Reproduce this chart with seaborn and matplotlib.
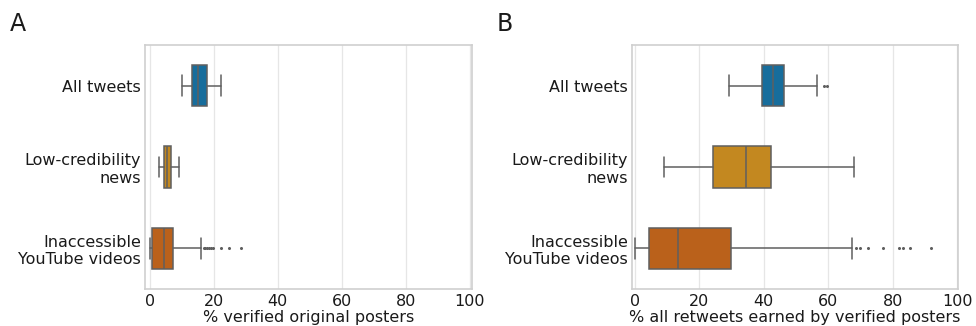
import matplotlib
matplotlib.use("Agg")
import matplotlib.pyplot as plt
import seaborn as sns

categories = ["All tweets", "Low-credibility\nnews", "Inaccessible\nYouTube videos"]

# Panel A: % verified original posters (whislo, q1, median, q3, whishi)
a_whislo = [10.0, 2.8, 0.0]
a_q1 = [13.3, 4.5, 0.8]
a_med = [15.2, 5.5, 4.4]
a_q3 = [17.9, 6.6, 7.3]
a_whishi = [22.1, 9.1, 16.1]
a_fliers = [[], [], [16.9, 17.4, 18.0, 18.5, 19.0, 19.6, 22.2, 24.8, 28.4]]

# Panel B: % all retweets earned by verified posters
b_whislo = [29.3, 9.1, 0.0]
b_q1 = [39.6, 24.1, 4.4]
b_med = [43.0, 34.4, 13.4]
b_q3 = [46.4, 42.3, 29.9]
b_whishi = [56.6, 68.0, 67.3]
b_fliers = [[58.6, 59.6], [], [68.7, 69.9, 72.3, 76.9, 82.1, 83.3, 85.4, 91.8]]

xlabel_a = "% verified original posters"
xlabel_b = "% all retweets earned by verified posters"
xticks = [0, 20, 40, 60, 80, 100]

sns.set_theme(style="whitegrid")
plt.rcParams["font.family"] = ["DejaVu Sans"]
plt.rcParams["text.color"] = "#1a1a1a"
plt.rcParams["xtick.color"] = "#1a1a1a"
plt.rcParams["ytick.color"] = "#1a1a1a"
plt.rcParams["axes.labelcolor"] = "#1a1a1a"

pal = sns.color_palette("colorblind")
colors = [sns.desaturate(pal[0], 0.75), sns.desaturate(pal[1], 0.75), sns.desaturate(pal[3], 0.75)]
linecol = "#5f5f5f"

fig = plt.figure(figsize=(9.76, 3.26), dpi=100)
W, H = 976, 326


def make_axes(left, right, top, bottom):
    return fig.add_axes([left / W, 1 - bottom / H, (right - left) / W, (bottom - top) / H])


def draw(ax, whislo, q1, med, q3, whishi, fliers, xlabel, xlim):
    stats = []
    for i in range(len(categories)):
        stats.append(dict(whislo=whislo[i], q1=q1[i], med=med[i], q3=q3[i],
                          whishi=whishi[i], fliers=fliers[i], label=categories[i]))
    bp = ax.bxp(stats, positions=range(len(categories)), widths=0.51,
                orientation="horizontal", patch_artist=True, showfliers=True,
                boxprops=dict(edgecolor=linecol, linewidth=1.1),
                whiskerprops=dict(color=linecol, linewidth=1.1),
                capprops=dict(color=linecol, linewidth=1.1),
                medianprops=dict(color=linecol, linewidth=1.1),
                flierprops=dict(marker="o", markersize=1.2, markerfacecolor=linecol,
                                markeredgecolor=linecol, linestyle="none"))
    for patch, c in zip(bp["boxes"], colors):
        patch.set_facecolor(c)
    ax.set_ylim(2.5, -0.5)
    ax.set_xlim(*xlim)
    ax.set_xticks(xticks)
    ax.set_yticks(range(len(categories)))
    ax.set_yticklabels(categories, fontsize=11.5)
    ax.tick_params(axis="x", labelsize=11.5, pad=3.5, length=0)
    ax.tick_params(axis="y", pad=3, length=0)
    ax.set_xlabel(xlabel, fontsize=11.5, labelpad=1)
    ax.grid(axis="y", visible=False)
    ax.grid(axis="x", color="#e6e6e6", linewidth=0.9)
    for s in ax.spines.values():
        s.set_color("#cfcfcf")
        s.set_linewidth(1.2)


axA = make_axes(145, 472, 45, 289)
axB = make_axes(632, 958, 45, 289)
draw(axA, a_whislo, a_q1, a_med, a_q3, a_whishi, a_fliers, xlabel_a, (-1.5, 100.7))
draw(axB, b_whislo, b_q1, b_med, b_q3, b_whishi, b_fliers, xlabel_b, (-0.9, 100.3))

fig.text(10 / W, 1 - 12 / H, "A", fontsize=17, va="top", ha="left")
fig.text(497 / W, 1 - 12 / H, "B", fontsize=17, va="top", ha="left")

fig.savefig("out.png", dpi=100)
